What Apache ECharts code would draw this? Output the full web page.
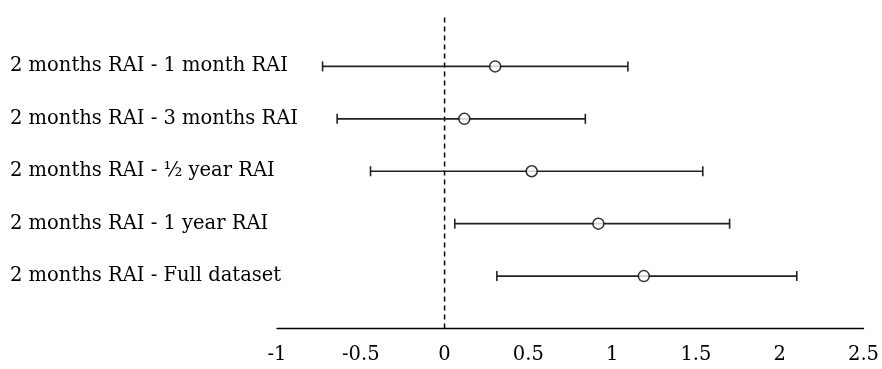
<!DOCTYPE html>
<html><head><meta charset="utf-8">
<script src="https://cdn.jsdelivr.net/npm/echarts@6/dist/echarts.min.js"></script>
<style>html,body{margin:0;padding:0;background:#fff}#c{width:882px;height:369px}</style>
</head><body><div id="c"></div>
<script>
const categories = ["2 months RAI - 1 month RAI","2 months RAI - 3 months RAI","2 months RAI - \u00bd year RAI","2 months RAI - 1 year RAI","2 months RAI - Full dataset"];
const estimates = [0.302, 0.118, 0.520, 0.918, 1.189];
const lowers = [-0.728, -0.641, -0.442, 0.061, 0.312];
const uppers = [1.094, 0.840, 1.541, 1.701, 2.102];
const xTicks = [-1, -0.5, 0, 0.5, 1, 1.5, 2, 2.5];

const rowPos = categories.map((c, i) => categories.length - i);
const FONT = '"DejaVu Serif", serif';
const chart = echarts.init(document.getElementById('c'));
chart.setOption({
  animation: false,
  grid: {left: 277, right: 11, top: 14, bottom: 40.5, containLabel: false},
  xAxis: {
    type: 'value', min: xTicks[0], max: xTicks[xTicks.length-1], interval: 0.5,
    axisLine: {show: true, lineStyle: {color: '#000', width: 1.3}},
    axisTick: {show: false}, splitLine: {show: false},
    axisLabel: {color: '#000', fontFamily: FONT, fontSize: 19.5, margin: 16,
      formatter: v => String(v)}
  },
  yAxis: {
    type: 'value', min: 0, max: categories.length + 1, interval: 1,
    axisLine: {show: false}, axisTick: {show: false}, splitLine: {show: false},
    axisLabel: {color: '#000', fontFamily: FONT, fontSize: 19.5, align: 'left', margin: 267,
      formatter: v => { const i = categories.length - v; return (i >= 0 && i < categories.length && v > 0) ? categories[i] : ''; }}
  },
  series: [
    {
      type: 'custom',
      data: categories.map((c, i) => [lowers[i], uppers[i], rowPos[i]]),
      renderItem: (params, api) => {
        const p1 = api.coord([api.value(0), api.value(2)]);
        const p2 = api.coord([api.value(1), api.value(2)]);
        const h = 5;
        const style = {stroke: '#222', lineWidth: 1.6};
        return {type: 'group', children: [
          {type: 'line', shape: {x1: p1[0], y1: p1[1], x2: p2[0], y2: p2[1]}, style},
          {type: 'line', shape: {x1: p1[0], y1: p1[1]-h, x2: p1[0], y2: p1[1]+h}, style},
          {type: 'line', shape: {x1: p2[0], y1: p2[1]-h, x2: p2[0], y2: p2[1]+h}, style}
        ]};
      },
      z: 2
    },
    {
      type: 'line',
      data: [[0, 0], [0, categories.length + 1]],
      symbol: 'none',
      lineStyle: {color: '#000', width: 1.5, type: [5, 4]},
      z: 1
    },
    {
      type: 'scatter',
      data: categories.map((c, i) => [estimates[i], rowPos[i]]),
      symbol: 'circle', symbolSize: 11,
      itemStyle: {color: '#fff', borderColor: '#000', borderWidth: 1.5},
      z: 3
    }
  ]
});
</script></body></html>
